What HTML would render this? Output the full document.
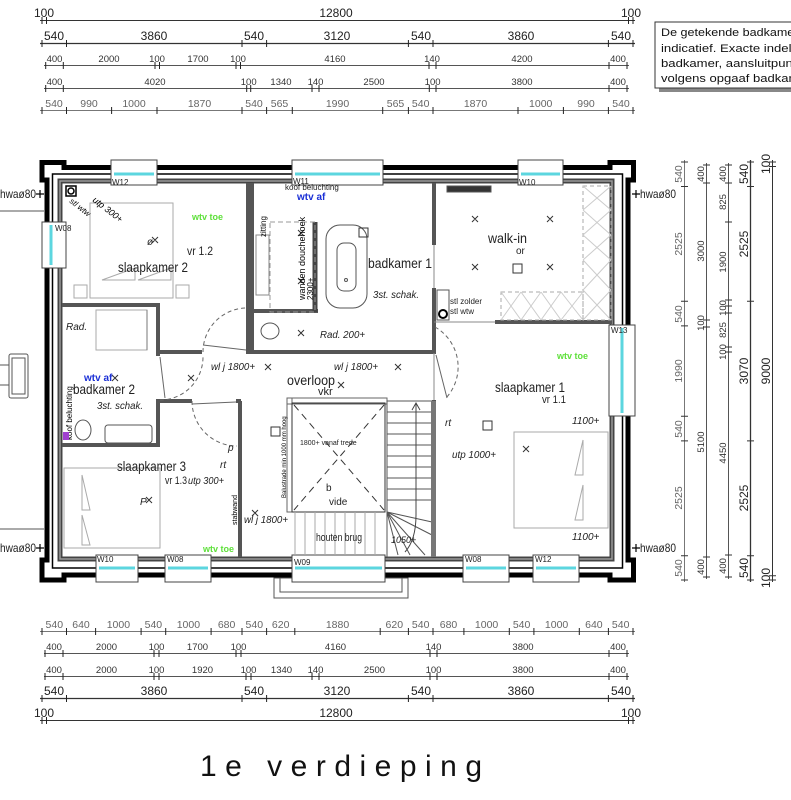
<!DOCTYPE html>
<html><head><meta charset="utf-8"><style>
html,body{margin:0;padding:0;background:#fff;}
svg{display:block;}
text{font-family:"Liberation Sans Narrow","Liberation Sans",sans-serif;}
.d1{font-size:12px;fill:#222;}
.d2{font-size:9.5px;fill:#333;}
.d3{font-size:10.5px;fill:#666;}
.lbl{font-size:13px;fill:#222;}
.sm{font-size:8px;fill:#222;}
.it{font-style:italic;font-size:10px;fill:#222;}
</style></head><body>
<svg width="791" height="800" viewBox="0 0 791 800" xmlns="http://www.w3.org/2000/svg">
<!-- ===== TOP DIMENSIONS ===== -->
<g stroke="#333" stroke-width="1" fill="none">
<line x1="40" y1="20.5" x2="635" y2="20.5"/>
<line x1="40" y1="43.5" x2="635" y2="43.5" stroke-width="1.3"/>
<line x1="44" y1="65.5" x2="629" y2="65.5" stroke="#555"/>
<line x1="44" y1="88.5" x2="629" y2="88.5" stroke="#555"/>
<line x1="40" y1="110.5" x2="635" y2="110.5" stroke="#777"/>
<line x1="40" y1="631.5" x2="635" y2="631.5" stroke="#777"/>
<line x1="44" y1="653.5" x2="629" y2="653.5" stroke="#555"/>
<line x1="44" y1="676.5" x2="629" y2="676.5" stroke="#555"/>
<line x1="40" y1="698.5" x2="635" y2="698.5" stroke-width="1.3"/>
<line x1="40" y1="720.5" x2="635" y2="720.5"/>
</g>
<g stroke="#222" stroke-width="1">
<path d="M42,17v7M46.5,17v7M628.5,17v7M633,17v7"/>
<path d="M42,40v7M66.5,40v7M242,40v7M266.6,40v7M408.4,40v7M433,40v7M608.4,40v7M633,40v7"/>
<path d="M45.7,62v7M63.3,62v7M155,62v7M159.5,62v7M236,62v7M240.5,62v7M429,62v7M436,62v7M609,62v7M627,62v7"/>
<path d="M45.7,85v7M63.3,85v7M246.7,85v7M250.7,85v7M312,85v7M319,85v7M429.3,85v7M436,85v7M609,85v7M627,85v7"/>
<path d="M42,107v7M66.5,107v7M111.6,107v7M157,107v7M242,107v7M266.6,107v7M292.3,107v7M382.7,107v7M408.4,107v7M433,107v7M518,107v7M563.4,107v7M608.4,107v7M633,107v7"/>
<path d="M42,628v7M66.5,628v7M95.6,628v7M141.1,628v7M165.7,628v7M211.1,628v7M242,628v7M266.6,628v7M294.8,628v7M380.2,628v7M408.4,628v7M433,628v7M463.9,628v7M509.3,628v7M533.9,628v7M579.3,628v7M608.4,628v7M633,628v7"/>
<path d="M45,650v7M63,650v7M154,650v7M159,650v7M236,650v7M241,650v7M430,650v7M437,650v7M609,650v7M627,650v7"/>
<path d="M45,673v7M63,673v7M154,673v7M159,673v7M246,673v7M251,673v7M312,673v7M319,673v7M430,673v7M437,673v7M609,673v7M627,673v7"/>
<path d="M42,695v7M66.5,695v7M242,695v7M266.6,695v7M408.4,695v7M433,695v7M608.4,695v7M633,695v7"/>
<path d="M42,717v7M46.5,717v7M628.5,717v7M633,717v7"/>
</g>
<g text-anchor="middle">
<text class="d1" x="44" y="17">100</text><text class="d1" x="336" y="17">12800</text><text class="d1" x="631" y="17">100</text>
<text class="d1" x="54" y="40">540</text><text class="d1" x="154" y="40">3860</text><text class="d1" x="254" y="40">540</text><text class="d1" x="337" y="40">3120</text><text class="d1" x="421" y="40">540</text><text class="d1" x="521" y="40">3860</text><text class="d1" x="621" y="40">540</text>
<text class="d2" x="54.5" y="62">400</text><text class="d2" x="109" y="62">2000</text><text class="d2" x="157" y="62">100</text><text class="d2" x="198" y="62">1700</text><text class="d2" x="238" y="62">100</text><text class="d2" x="335" y="62">4160</text><text class="d2" x="432" y="62">140</text><text class="d2" x="522" y="62">4200</text><text class="d2" x="618" y="62">400</text>
<text class="d2" x="54.5" y="85">400</text><text class="d2" x="155" y="85">4020</text><text class="d2" x="248.7" y="85">100</text><text class="d2" x="281" y="85">1340</text><text class="d2" x="315.5" y="85">140</text><text class="d2" x="374" y="85">2500</text><text class="d2" x="432.6" y="85">100</text><text class="d2" x="522" y="85">3800</text><text class="d2" x="618" y="85">400</text>
<text class="d3" x="54" y="107">540</text><text class="d3" x="89" y="107">990</text><text class="d3" x="134" y="107">1000</text><text class="d3" x="199.5" y="107">1870</text><text class="d3" x="254" y="107">540</text><text class="d3" x="279.5" y="107">565</text><text class="d3" x="337.5" y="107">1990</text><text class="d3" x="395.5" y="107">565</text><text class="d3" x="420.7" y="107">540</text><text class="d3" x="475.5" y="107">1870</text><text class="d3" x="540.7" y="107">1000</text><text class="d3" x="586" y="107">990</text><text class="d3" x="621" y="107">540</text>
<text class="d3" x="54.3" y="628">540</text><text class="d3" x="81" y="628">640</text><text class="d3" x="118.4" y="628">1000</text><text class="d3" x="153.4" y="628">540</text><text class="d3" x="188.4" y="628">1000</text><text class="d3" x="226.6" y="628">680</text><text class="d3" x="254.3" y="628">540</text><text class="d3" x="280.7" y="628">620</text><text class="d3" x="337.5" y="628">1880</text><text class="d3" x="394.3" y="628">620</text><text class="d3" x="420.7" y="628">540</text><text class="d3" x="448.5" y="628">680</text><text class="d3" x="486.6" y="628">1000</text><text class="d3" x="521.6" y="628">540</text><text class="d3" x="556.6" y="628">1000</text><text class="d3" x="593.9" y="628">640</text><text class="d3" x="620.7" y="628">540</text>
<text class="d2" x="54" y="650">400</text><text class="d2" x="106.5" y="650">2000</text><text class="d2" x="156.5" y="650">100</text><text class="d2" x="197.5" y="650">1700</text><text class="d2" x="238.5" y="650">100</text><text class="d2" x="335.5" y="650">4160</text><text class="d2" x="433.5" y="650">140</text><text class="d2" x="523" y="650">3800</text><text class="d2" x="618" y="650">400</text>
<text class="d2" x="54" y="673">400</text><text class="d2" x="106.5" y="673">2000</text><text class="d2" x="156.5" y="673">100</text><text class="d2" x="202.5" y="673">1920</text><text class="d2" x="248.5" y="673">100</text><text class="d2" x="281.5" y="673">1340</text><text class="d2" x="315.5" y="673">140</text><text class="d2" x="374.5" y="673">2500</text><text class="d2" x="433.5" y="673">100</text><text class="d2" x="523" y="673">3800</text><text class="d2" x="618" y="673">400</text>
<text class="d1" x="54" y="695">540</text><text class="d1" x="154" y="695">3860</text><text class="d1" x="254" y="695">540</text><text class="d1" x="337" y="695">3120</text><text class="d1" x="421" y="695">540</text><text class="d1" x="521" y="695">3860</text><text class="d1" x="621" y="695">540</text>
<text class="d1" x="44" y="717">100</text><text class="d1" x="336" y="717">12800</text><text class="d1" x="631" y="717">100</text>
</g>
<!-- ===== RIGHT DIMENSIONS ===== -->
<g stroke="#333" stroke-width="1">
<line x1="684.5" y1="160" x2="684.5" y2="582" stroke="#777"/>
<line x1="706.5" y1="163" x2="706.5" y2="579" stroke="#555"/>
<line x1="728.5" y1="163" x2="728.5" y2="579" stroke="#555"/>
<line x1="750.5" y1="160" x2="750.5" y2="582" stroke-width="1.3"/>
<line x1="772.5" y1="160" x2="772.5" y2="582"/>
<path d="M681,162h7M681,186.5h7M681,301.3h7M681,325.9h7M681,416.3h7M681,440.9h7M681,555.7h7M681,580h7"/>
<path d="M703,165h7M703,183h7M703,320h7M703,327h7M703,557h7M703,577h7"/>
<path d="M725,165h7M725,183h7M725,222h7M725,300h7M725,306h7M725,313h7M725,347h7M725,352h7M725,555h7M725,577h7"/>
<path d="M747,162h7M747,186.5h7M747,301.3h7M747,440.9h7M747,555.7h7M747,580h7"/>
<path d="M769,162h7M769,166.5h7M769,575.7h7M769,580h7"/>
</g>
<g text-anchor="middle">
<text class="d3" transform="translate(682,174) rotate(-90)">540</text><text class="d3" transform="translate(682,244) rotate(-90)">2525</text><text class="d3" transform="translate(682,314) rotate(-90)">540</text><text class="d3" transform="translate(682,371) rotate(-90)">1990</text><text class="d3" transform="translate(682,429) rotate(-90)">540</text><text class="d3" transform="translate(682,498) rotate(-90)">2525</text><text class="d3" transform="translate(682,568) rotate(-90)">540</text>
<text class="d2" transform="translate(704,174) rotate(-90)">400</text><text class="d2" transform="translate(704,251) rotate(-90)">3000</text><text class="d2" transform="translate(704,323) rotate(-90)">100</text><text class="d2" transform="translate(704,442) rotate(-90)">5100</text><text class="d2" transform="translate(704,567) rotate(-90)">400</text>
<text class="d2" transform="translate(726,174) rotate(-90)">400</text><text class="d2" transform="translate(726,202) rotate(-90)">825</text><text class="d2" transform="translate(726,262) rotate(-90)">1900</text><text class="d2" transform="translate(726,308) rotate(-90)">100</text><text class="d2" transform="translate(726,330) rotate(-90)">825</text><text class="d2" transform="translate(726,352) rotate(-90)">100</text><text class="d2" transform="translate(726,453) rotate(-90)">4450</text><text class="d2" transform="translate(726,566) rotate(-90)">400</text>
<text class="d1" transform="translate(748,174) rotate(-90)">540</text><text class="d1" transform="translate(748,244) rotate(-90)">2525</text><text class="d1" transform="translate(748,371) rotate(-90)">3070</text><text class="d1" transform="translate(748,498) rotate(-90)">2525</text><text class="d1" transform="translate(748,568) rotate(-90)">540</text>
<text class="d1" transform="translate(770,164) rotate(-90)">100</text><text class="d1" transform="translate(770,371) rotate(-90)">9000</text><text class="d1" transform="translate(770,578) rotate(-90)">100</text>
</g>
<!-- note box -->
<rect x="659" y="26" width="140" height="66" fill="#888"/>
<rect x="655" y="22" width="140" height="66" fill="#fff" stroke="#333" stroke-width="1"/>
<g fill="#111"><text x="661" y="36" style="font-size:11px" textLength="150" lengthAdjust="spacingAndGlyphs">De getekende badkamer is</text><text x="661" y="52" style="font-size:11px" textLength="148" lengthAdjust="spacingAndGlyphs">indicatief. Exacte indeling</text><text x="661" y="67" style="font-size:11px" textLength="150" lengthAdjust="spacingAndGlyphs">badkamer, aansluitpunten</text><text x="661" y="82" style="font-size:11px" textLength="150" lengthAdjust="spacingAndGlyphs">volgens opgaaf badkamer</text></g>

<!-- ===== OUTSIDE ELEMENTS ===== -->
<g stroke="#555" fill="none" stroke-width="1">
<line x1="0" y1="211" x2="44" y2="211"/><line x1="0" y1="529" x2="44" y2="529"/>
<rect x="9" y="354" width="19" height="44" rx="2"/><rect x="12" y="358" width="13" height="36"/>
<line x1="0" y1="365" x2="9" y2="365"/><line x1="0" y1="385" x2="9" y2="385"/>
<rect x="274" y="578" width="134" height="20"/><rect x="280" y="578" width="122" height="14"/>
</g>
<text class="lbl" x="0" y="198" style="font-size:12px" textLength="36" lengthAdjust="spacingAndGlyphs">hwaø80</text>
<text class="lbl" x="0" y="552" style="font-size:12px" textLength="36" lengthAdjust="spacingAndGlyphs">hwaø80</text>
<text class="lbl" x="640" y="198" style="font-size:12px" textLength="36" lengthAdjust="spacingAndGlyphs">hwaø80</text>
<text class="lbl" x="640" y="552" style="font-size:12px" textLength="36" lengthAdjust="spacingAndGlyphs">hwaø80</text>
<path d="M36,194h8M40,190v8M36,548h8M40,544v8M632,194h8M636,190v8M632,548h8M636,544v8" stroke="#000" stroke-width="1.2"/>

<!-- ===== OUTER WALLS ===== -->
<g fill="none" stroke="#000">
<path d="M42,162.5H64V167.5H610V162.5H633.5V180H628V560H633.5V580H610V575H64V580H42V560H47V180H42Z" stroke-width="5" stroke-linejoin="miter"/>
<rect x="52.5" y="174" width="570" height="394" stroke-width="1.5"/>
</g>
<rect x="60" y="181" width="552" height="378" fill="none" stroke="#444" stroke-width="5"/>
<rect x="60" y="181" width="552" height="378" fill="none" stroke="#999" stroke-width="1.5"/>

<!-- windows -->
<g stroke="#444" stroke-width="1" fill="#fff">
<rect x="111" y="160" width="46" height="25"/><rect x="292" y="160" width="91" height="25"/><rect x="518" y="160" width="45" height="25"/>
<rect x="42" y="222" width="24" height="46"/><rect x="609" y="325" width="26" height="91"/>
<rect x="96" y="555" width="42" height="27"/><rect x="165" y="555" width="46" height="27"/><rect x="292" y="555" width="93" height="27"/><rect x="463" y="555" width="46" height="27"/><rect x="533" y="555" width="46" height="27"/>
</g>
<g stroke="#5cd6df" stroke-width="3">
<line x1="114" y1="174" x2="154" y2="174"/><line x1="295" y1="174" x2="380" y2="174"/><line x1="521" y1="174" x2="560" y2="174"/>
<line x1="51" y1="225" x2="51" y2="265"/><line x1="622" y1="328" x2="622" y2="413"/>
<line x1="99" y1="568" x2="135" y2="568"/><line x1="168" y1="568" x2="208" y2="568"/><line x1="295" y1="568" x2="382" y2="568"/><line x1="466" y1="568" x2="506" y2="568"/><line x1="536" y1="568" x2="576" y2="568"/>
</g>
<g class="sm" style="font-size:8px">
<text x="112" y="185">W12</text><text x="293" y="184">W11</text><text x="519" y="185">W10</text><text x="55" y="231">W08</text><text x="611" y="333">W13</text>
<text x="97" y="562">W10</text><text x="167" y="562">W08</text><text x="294" y="565">W09</text><text x="465" y="562">W08</text><text x="535" y="562">W12</text>
</g>

<!-- ===== INTERIOR WALLS ===== -->
<g stroke="#555" stroke-width="4" fill="none">
<path d="M248,183V352"/>
<path d="M158,352H202M246,352H436"/>
<path d="M434,183V245M434,288V353M434,400V557"/>
<path d="M495,322H612"/>
<path d="M252,183V352M252,311H318"/>
<path d="M62,305H160M158,305V356M158,399V446M62,445H160"/>
<path d="M160,401H192M236,401H241M240,401V557"/>
</g>
<path d="M315,222V312" stroke="#444" stroke-width="5"/>
<path d="M434,322H495M434,245V288M434,353V400" stroke="#888" stroke-width="1"/>
<g stroke="#666" stroke-width="1" fill="none">
<path d="M203,352 A44,44 0 0 1 247,308" stroke-dasharray="4,3"/>
<line x1="203" y1="345" x2="246" y2="350"/>
<path d="M160,400 A43,43 0 0 0 203,357" stroke-dasharray="4,3"/>
<line x1="160" y1="357" x2="165" y2="398"/>
<path d="M192,401 A45,45 0 0 0 237,446" stroke-dasharray="4,3"/>
<line x1="192" y1="404" x2="236" y2="402"/>
<path d="M435,327 A46,46 0 0 1 446,398" stroke-dasharray="4,3"/>
<line x1="436" y1="355" x2="447" y2="398"/>
</g>

<!-- ===== FURNITURE ===== -->
<g stroke="#aaa" stroke-width="1" fill="none">
<rect x="90" y="203" width="83" height="95"/><rect x="74" y="285" width="13" height="13"/><rect x="176" y="285" width="13" height="13"/>
<path d="M102,280L135,268V280ZM138,280L171,268V280Z"/>
<rect x="64" y="468" width="96" height="80"/><path d="M82,475L90,510H82ZM82,515L90,545H82Z"/>
<rect x="514" y="432" width="94" height="96"/><path d="M583,440L575,475H583ZM583,485L575,520H583Z"/>
<rect x="96" y="310" width="51" height="40"/><line x1="147" y1="310" x2="147" y2="350" stroke="#777"/>
</g>
<g stroke="#555" stroke-width="1" fill="none">
<rect x="326" y="225" width="41" height="83" rx="14"/><rect x="337" y="243" width="19" height="48" rx="7"/><circle cx="346" cy="280" r="1.5"/>
<rect x="270" y="222" width="45" height="90" stroke-dasharray="5,3" stroke="#999"/>
<rect x="256" y="235" width="13" height="60" stroke="#888"/>
<ellipse cx="270" cy="331" rx="9" ry="8"/>
<ellipse cx="83" cy="430" rx="8" ry="10"/>
<rect x="105" y="425" width="47" height="18" rx="3"/>
<rect x="447" y="186" width="44" height="6" fill="#333"/>
<rect x="583" y="186" width="28" height="134" stroke="#aaa" stroke-dasharray="4,3"/>
<rect x="501" y="292" width="82" height="28" stroke="#aaa" stroke-dasharray="4,3"/>
<path d="M583,186L611,210M611,186L583,210M583,210L611,235M611,210L583,235M583,235L611,260M611,235L583,260M583,260L611,290M611,260L583,290M583,290L611,320M611,290L583,320" stroke="#ccc"/>
<path d="M501,292L521,320M521,292L501,320M521,292L541,320M541,292L521,320M541,292L561,320M561,292L541,320M561,292L583,320M583,292L561,320" stroke="#ccc"/>
<rect x="66" y="186" width="10" height="10" stroke="#000" stroke-width="1.5"/><circle cx="71" cy="191" r="3" stroke="#000" stroke-width="1.5"/>
<rect x="437" y="290" width="12" height="30"/><circle cx="443" cy="314" r="4" stroke="#000" stroke-width="2"/>
</g>
<g stroke="#333" stroke-width="1" fill="none">
<rect x="287" y="398" width="100" height="6" stroke="#666"/>
<rect x="287" y="398" width="5" height="114" stroke="#666"/>
<rect x="292" y="403" width="93" height="109"/>
<path d="M294,405L384,510M384,405L294,510" stroke-dasharray="7,5"/>
<path d="M295,512V555M305,512V555M315,512V555M325,512V555M335,512V555M345,512V555M355,512V555M365,512V555M375,512V555" stroke="#aaa"/>
<rect x="387" y="401" width="45" height="156" stroke="#555"/>
<path d="M387,412H432M387,423H432M387,434H432M387,445H432M387,456H432M387,467H432M387,478H432M387,489H432M387,500H432" stroke="#555"/>
<path d="M387,512L432,522M387,512L432,535M387,512L425,555M387,512L410,555M387,512L398,555" stroke="#555"/>
<path d="M416,404V515Q416,540 405,552" stroke="#444"/>
<path d="M412,410L416,403L420,410" stroke="#444"/>
</g>
<rect x="431" y="401" width="5" height="156" fill="#777"/>
<rect x="271" y="427" width="9" height="9" fill="none" stroke="#333"/>
<rect x="359" y="228" width="9" height="9" fill="none" stroke="#333"/>
<rect x="483" y="421" width="9" height="9" fill="none" stroke="#333"/>
<rect x="513" y="264" width="9" height="9" fill="none" stroke="#333"/>
<g stroke="#333" stroke-width="1">
<path d="M472,216l6,6M478,216l-6,6M547,216l6,6M553,216l-6,6M472,264l6,6M478,264l-6,6M547,264l6,6M553,264l-6,6M298,230l6,6M304,230l-6,6M298,278l6,6M304,278l-6,6M298,330l6,6M304,330l-6,6M188,375l6,6M194,375l-6,6M338,382l6,6M344,382l-6,6M152,237l6,6M158,237l-6,6M146,497l6,6M152,497l-6,6M523,446l6,6M529,446l-6,6M265,364l6,6M271,364l-6,6M395,364l6,6M401,364l-6,6M252,510l6,6M258,510l-6,6M112,375l6,6M118,375l-6,6"/>
</g>

<!-- ===== TEXT LABELS ===== -->
<g class="lbl">
<text x="118" y="272" style="font-size:14px" textLength="70" lengthAdjust="spacingAndGlyphs">slaapkamer 2</text>
<text x="187" y="255" style="font-size:12px" textLength="26" lengthAdjust="spacingAndGlyphs">vr 1.2</text>
<text x="368" y="268" style="font-size:14px" textLength="64" lengthAdjust="spacingAndGlyphs">badkamer 1</text>
<text x="488" y="243" style="font-size:14px" textLength="39" lengthAdjust="spacingAndGlyphs">walk-in</text>
<text x="516" y="254" style="font-size:10px">or</text>
<text x="495" y="392" style="font-size:14px" textLength="70" lengthAdjust="spacingAndGlyphs">slaapkamer 1</text>
<text x="542" y="403" style="font-size:11px" textLength="24" lengthAdjust="spacingAndGlyphs">vr 1.1</text>
<text x="287" y="385" style="font-size:14px" textLength="48" lengthAdjust="spacingAndGlyphs">overloop</text>
<text x="318" y="395" style="font-size:11px">vkr</text>
<text x="73" y="394" style="font-size:14px" textLength="62" lengthAdjust="spacingAndGlyphs">badkamer 2</text>
<text x="117" y="471" style="font-size:14px" textLength="69" lengthAdjust="spacingAndGlyphs">slaapkamer 3</text>
<text x="165" y="484" style="font-size:11px" textLength="22" lengthAdjust="spacingAndGlyphs">vr 1.3</text>
<text x="316" y="541" style="font-size:11px" textLength="46" lengthAdjust="spacingAndGlyphs">houten brug</text>
<text x="329" y="505" style="font-size:10px">vide</text>
<text x="326" y="491" style="font-size:10px">b</text>
<text x="300" y="445" style="font-size:7px">1800+ vanaf trede</text>
</g>
<g class="it">
<text x="373" y="298" textLength="46" lengthAdjust="spacingAndGlyphs">3st. schak.</text>
<text x="97" y="409" textLength="46" lengthAdjust="spacingAndGlyphs">3st. schak.</text>
<text x="320" y="338" textLength="45" lengthAdjust="spacingAndGlyphs">Rad. 200+</text>
<text x="66" y="330">Rad.</text>
<text x="211" y="370" textLength="44" lengthAdjust="spacingAndGlyphs">wl j 1800+</text>
<text x="334" y="370" textLength="44" lengthAdjust="spacingAndGlyphs">wl j 1800+</text>
<text x="244" y="523" textLength="44" lengthAdjust="spacingAndGlyphs">wl j 1800+</text>
<text x="188" y="484" textLength="36" lengthAdjust="spacingAndGlyphs">utp 300+</text>
<text x="452" y="458" textLength="44" lengthAdjust="spacingAndGlyphs">utp 1000+</text>
<text x="445" y="426">rt</text>
<text x="572" y="424">1100+</text>
<text x="572" y="540">1100+</text>
<text x="220" y="468">rt</text>
<text x="228" y="451">p</text>
<text x="140" y="505">P</text>
<text x="147" y="245">ø</text>
<text x="391" y="543" style="font-size:9px">1050+</text>
</g>
<text x="92" y="201" transform="rotate(38 92 201)" style="font-size:9px;font-style:italic">utp 300+</text>
<text x="69" y="202" transform="rotate(38 69 202)" style="font-size:8px;font-style:italic">stl wtw</text>
<text x="285" y="190" class="sm">koof beluchting</text>
<text x="266" y="237" transform="rotate(-90 266 237)" style="font-size:8px">zitting</text>
<text x="305" y="300" transform="rotate(-90 305 300)" style="font-size:9px">wanden douchehoek</text>
<text x="313" y="300" transform="rotate(-90 313 300)" style="font-size:8px">2300+</text>
<text x="72" y="440" transform="rotate(-90 72 440)" style="font-size:8px">koof beluchting</text>
<text x="237" y="525" transform="rotate(-90 237 525)" style="font-size:7px">stabwand</text>
<text x="286" y="498" transform="rotate(-90 286 498)" style="font-size:6px">Balustrade min 1000 mm hoog</text>
<text x="450" y="304" class="sm">stl zolder</text>
<text x="450" y="314" class="sm">stl wtw</text>
<text x="297" y="200" style="font-size:10px;fill:#1a2fd6;font-weight:bold">wtv af</text>
<text x="84" y="381" style="font-size:10px;fill:#1a2fd6;font-weight:bold">wtv af</text>
<text x="192" y="220" style="font-size:9px;fill:#5ee03a;font-weight:bold">wtv toe</text>
<text x="557" y="359" style="font-size:9px;fill:#5ee03a;font-weight:bold">wtv toe</text>
<text x="203" y="552" style="font-size:9px;fill:#5ee03a;font-weight:bold">wtv toe</text>
<rect x="63" y="432" width="6" height="8" fill="#a040d0"/>

<text x="200" y="776" textLength="282" lengthAdjust="spacing" style="font-family:'Liberation Sans',sans-serif;font-size:30px;fill:#111">1e verdieping</text>
</svg>
</body></html>
